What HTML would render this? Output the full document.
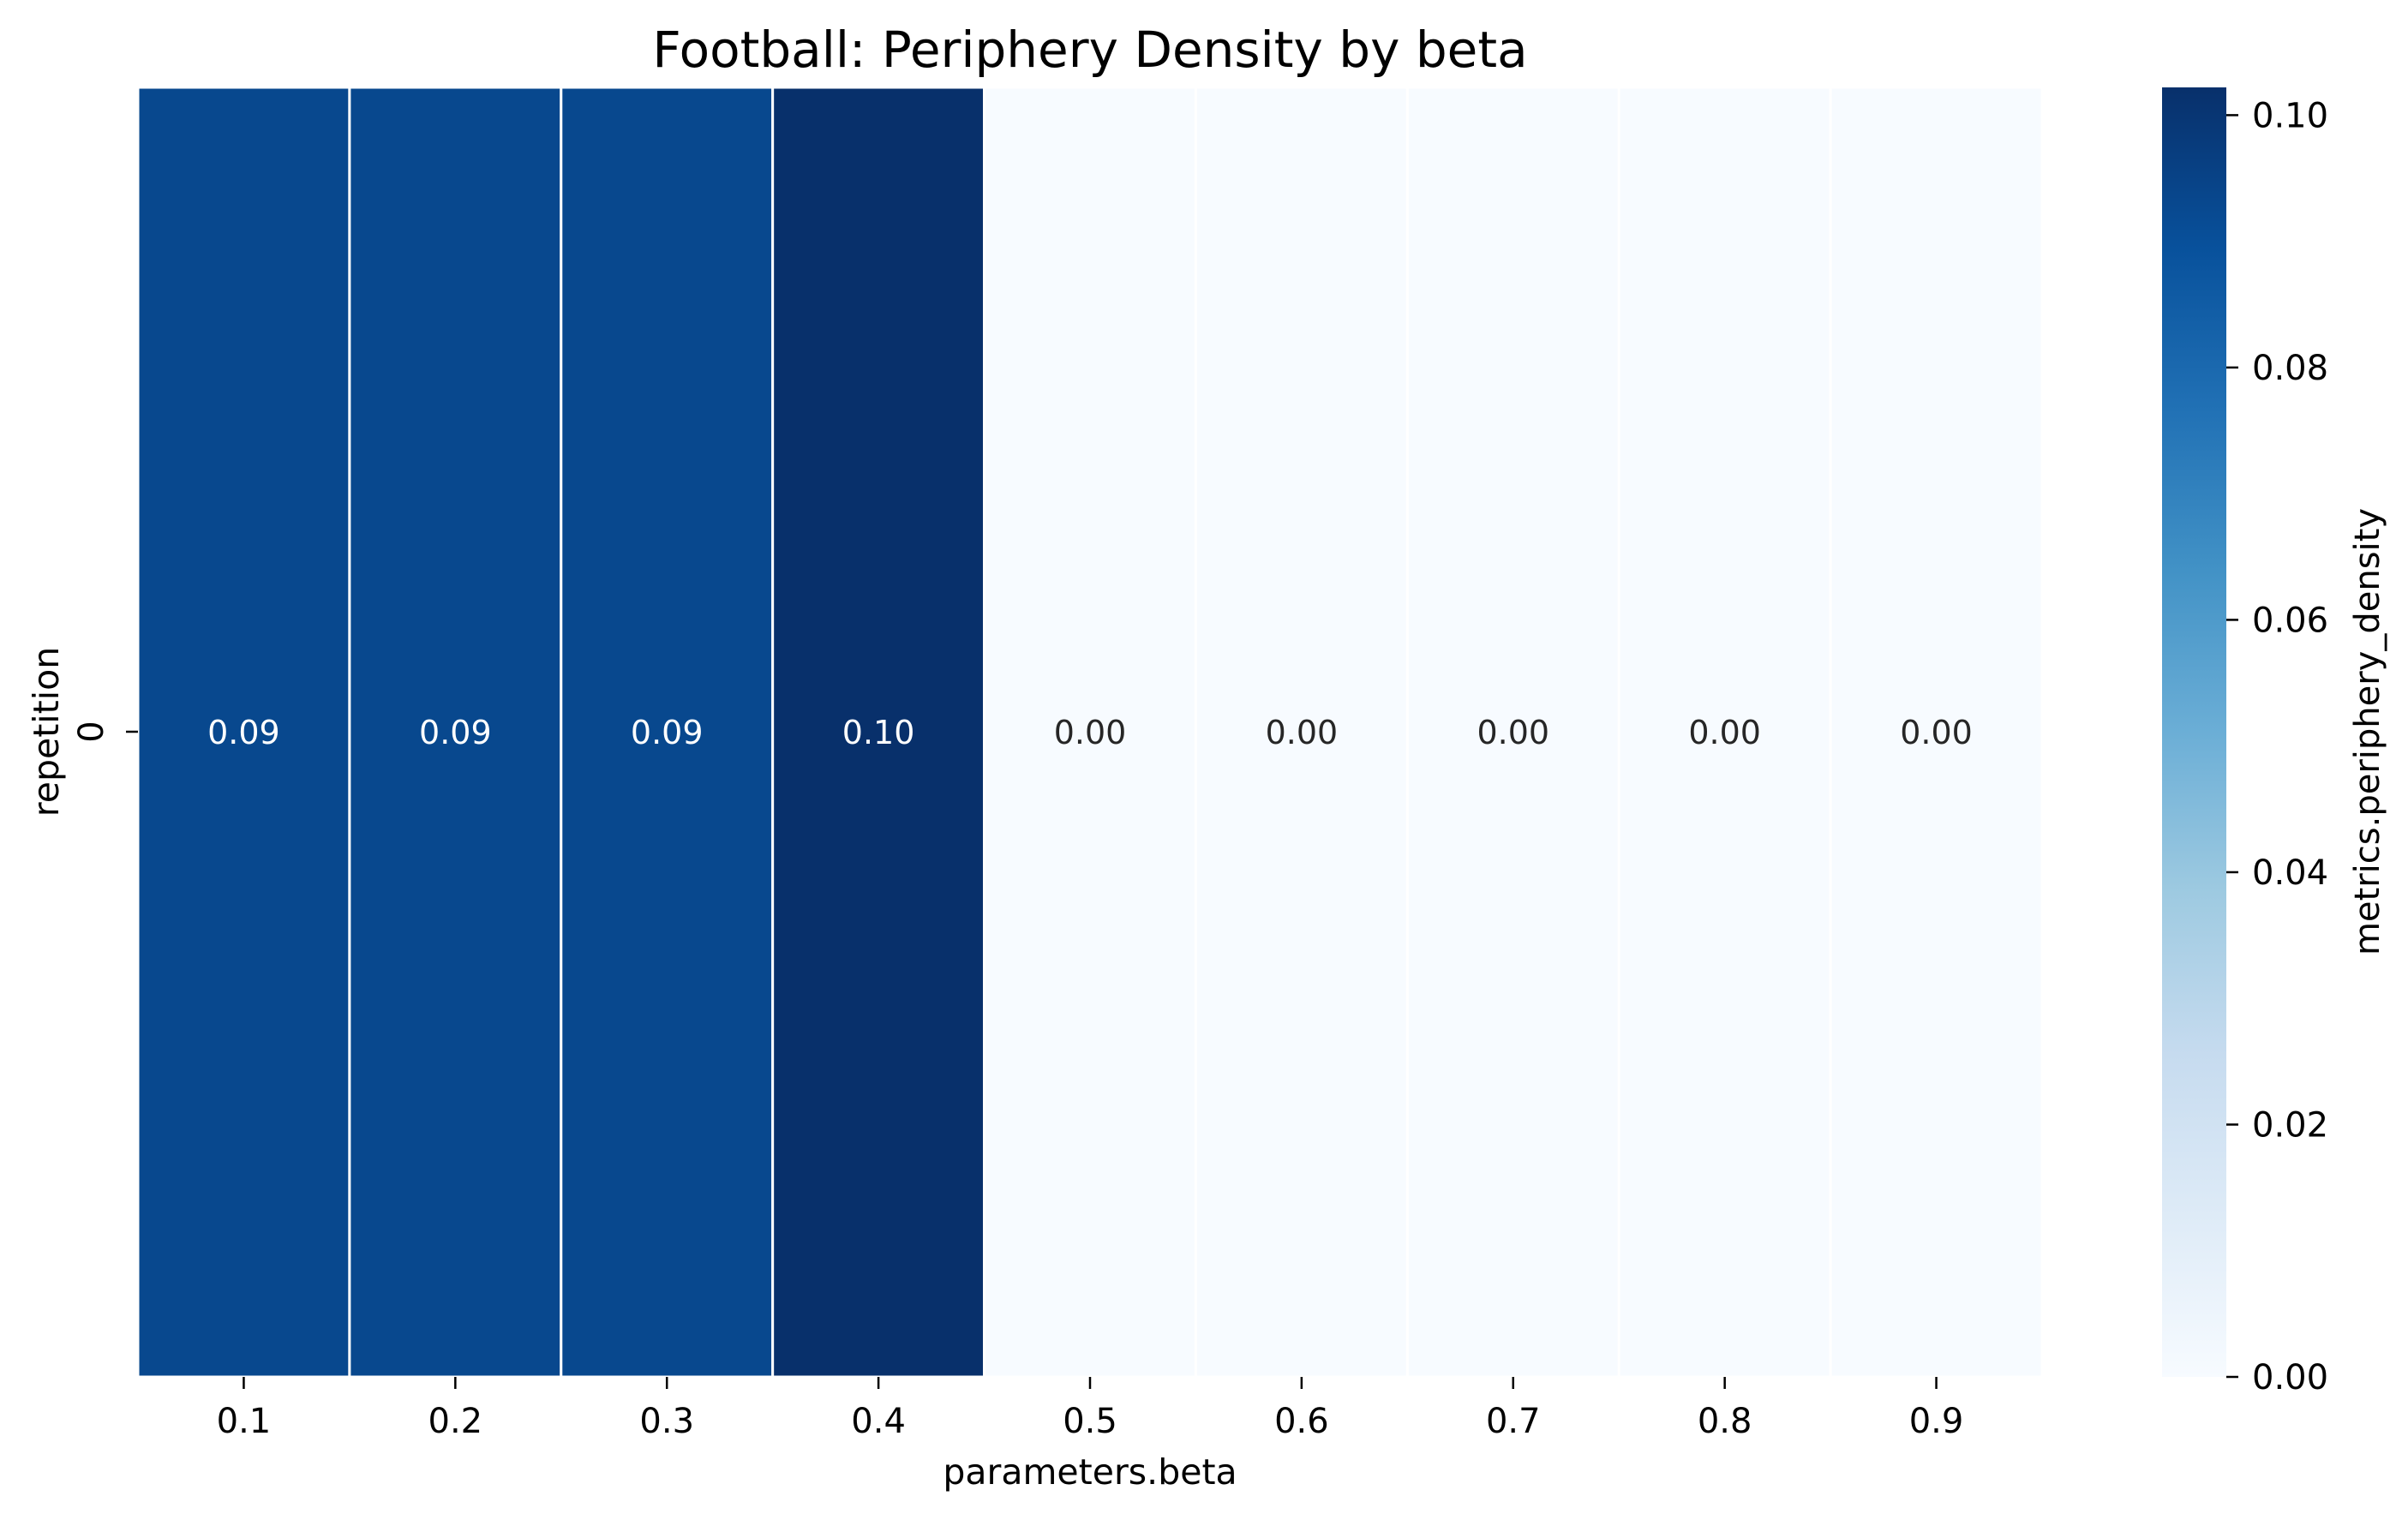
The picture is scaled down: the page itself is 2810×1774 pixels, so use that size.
<!DOCTYPE html>
<html><head><meta charset="utf-8"><style>
html,body{margin:0;padding:0;background:#fff}
svg text{font-family:"DejaVu Sans","Liberation Sans",sans-serif;fill:#000}
</style></head><body>
<svg id="chart" width="2810" height="1769" xmlns="http://www.w3.org/2000/svg">
<defs><linearGradient id="cbgrad" x1="0" y1="1" x2="0" y2="0">
<stop offset="0" stop-color="#f7fbff"/><stop offset="0.125" stop-color="#deebf7"/><stop offset="0.25" stop-color="#c6dbef"/><stop offset="0.375" stop-color="#9ecae1"/><stop offset="0.5" stop-color="#6baed6"/><stop offset="0.625" stop-color="#4292c6"/><stop offset="0.75" stop-color="#2171b5"/><stop offset="0.875" stop-color="#08519c"/><stop offset="1" stop-color="#08306b"/>
</linearGradient></defs>
<text x="1272" y="78" font-size="58" text-anchor="middle">Football: Periphery Density by beta</text>
<g id="cells"></g>
<g id="xticks"></g>
<line x1="147" y1="854" x2="161" y2="854" stroke="#000" stroke-width="2.5"/>
<text transform="translate(120,854) rotate(-90)" font-size="40" text-anchor="middle">0</text>
<text transform="translate(68,854) rotate(-90)" font-size="41" text-anchor="middle">repetition</text>
<text x="1272" y="1732" font-size="41" text-anchor="middle">parameters.beta</text>
<rect x="2523" y="102" width="75" height="1505" fill="url(#cbgrad)"/>
<g id="cbticks"></g>
<text transform="translate(2776,854) rotate(-90)" font-size="40" text-anchor="middle">metrics.periphery_density</text>
</svg>
<script>
const categories = ["0.1","0.2","0.3","0.4","0.5","0.6","0.7","0.8","0.9"];
const values = [0.093,0.093,0.093,0.1022,0.0002,0.0002,0.0002,0.0002,0.0002];
const labels = ["0.09","0.09","0.09","0.10","0.00","0.00","0.00","0.00","0.00"];
const cbTicks = [0,0.02,0.04,0.06,0.08,0.10];
const cbTickLabels = ["0.00","0.02","0.04","0.06","0.08","0.10"];

const NS="http://www.w3.org/2000/svg";
const L=161,R=2383,T=102,B=1607;
const vmin=0, vmax=Math.max(...values);
const stops=["#f7fbff","#deebf7","#c6dbef","#9ecae1","#6baed6","#4292c6","#2171b5","#08519c","#08306b"].map(h=>[parseInt(h.slice(1,3),16),parseInt(h.slice(3,5),16),parseInt(h.slice(5,7),16)]);
function color(v){let t=Math.max(0,Math.min(1,(v-vmin)/(vmax-vmin)))*(stops.length-1);let i=Math.min(stops.length-2,Math.floor(t));let f=t-i;let c=stops[i].map((a,k)=>Math.round(a+(stops[i+1][k]-a)*f));return {c:"rgb("+c.join(",")+")",lum:(0.299*c[0]+0.587*c[1]+0.114*c[2])};}
const cw=(R-L)/categories.length;
function xs(i){return L+i*cw;}
function ys(v){return B-(v-vmin)/(vmax-vmin)*(B-T);}
function mk(tag,attrs,parent){const e=document.createElementNS(NS,tag);for(const k in attrs)e.setAttribute(k,attrs[k]);parent.appendChild(e);return e;}
const cells=document.getElementById('cells'), xt=document.getElementById('xticks'), cb=document.getElementById('cbticks');
categories.forEach((c,i)=>{
  const col=color(values[i]);
  const r=mk('rect',{x:xs(i),y:T,width:cw,height:B-T,fill:col.c,stroke:'#fff','stroke-width':3},cells);
  
  
  const t=mk('text',{x:xs(i)+cw/2,y:868,'font-size':38,'text-anchor':'middle'},cells);
  t.style.fill=col.lum<128?'#fff':'#262626';
  t.textContent=labels[i];
  
  
  const tk=mk('line',{x1:xs(i)+cw/2,y1:B,x2:xs(i)+cw/2,y2:B+14,stroke:'#000','stroke-width':2.5},xt);
  
  
  const tl=mk('text',{x:xs(i)+cw/2,y:1672,'font-size':40,'text-anchor':'middle'},xt);
  tl.textContent=c;
  
  
});
cbTicks.forEach((v,i)=>{
  const y=ys(v);
  const m=mk('line',{x1:2598,y1:y,x2:2612,y2:y,stroke:'#000','stroke-width':2.5},cb);
  
  
  const t=mk('text',{x:2628,y:y+14,'font-size':40},cb);
  t.textContent=cbTickLabels[i];
  
  
});
</script>
</body></html>
